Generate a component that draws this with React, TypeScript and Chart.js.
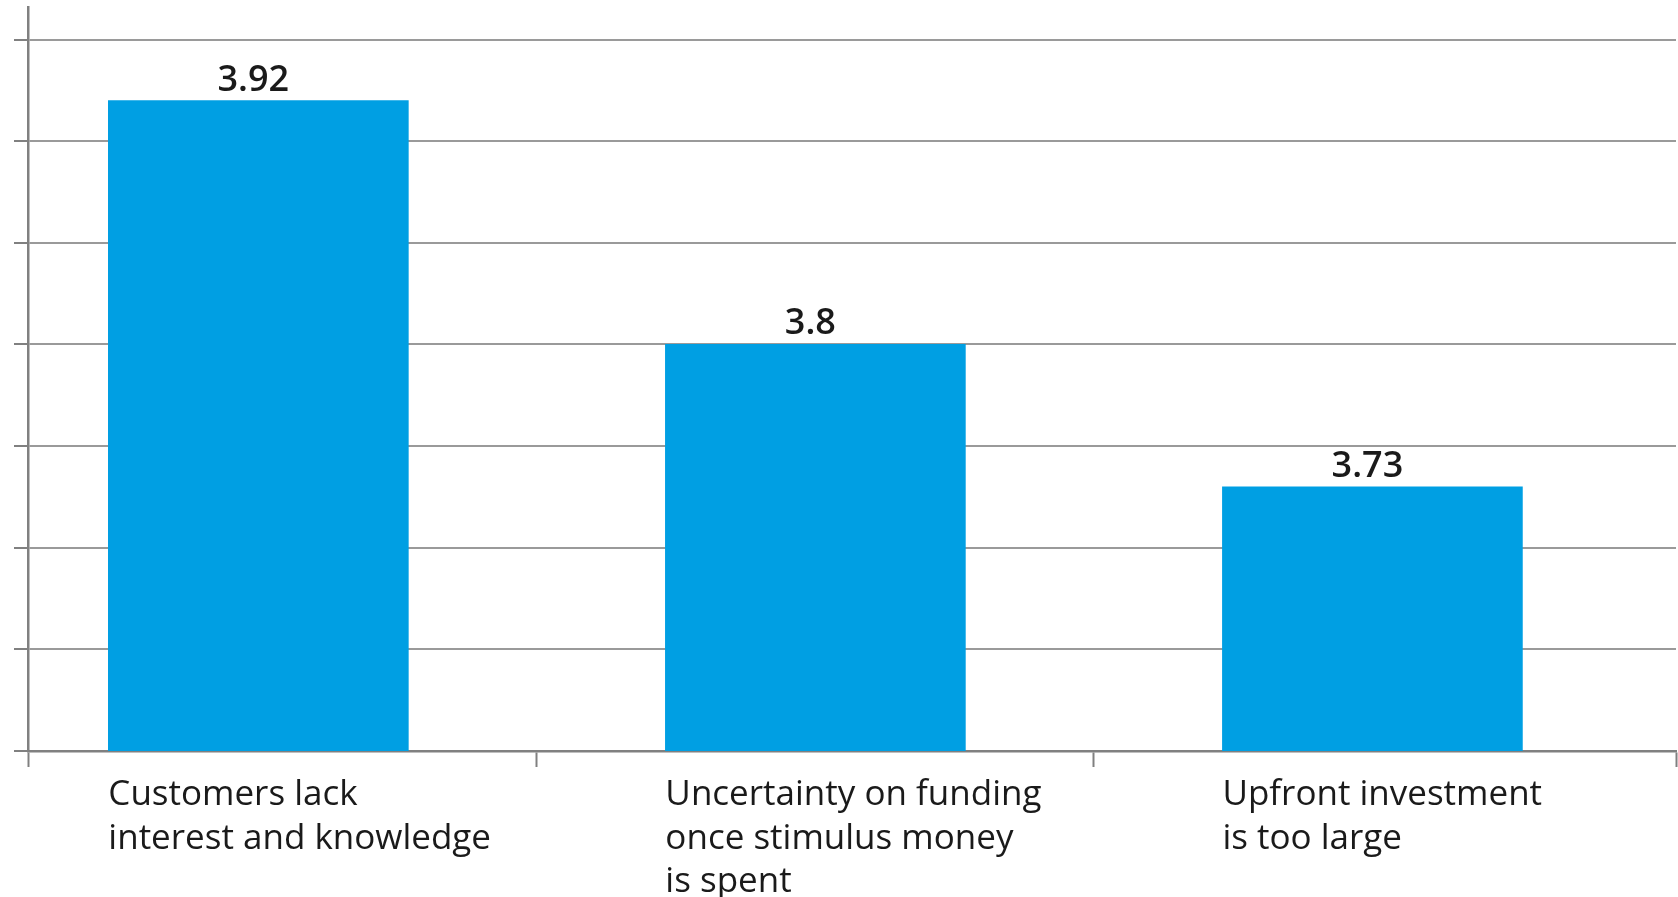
import React, { useEffect, useRef } from "react";
import { Chart, registerables } from "chart.js";

Chart.register(...registerables);

// ---- data ----
const categories: string[][] = [
  ["Customers lack", "interest and knowledge"],
  ["Uncertainty on funding", "once stimulus money", "is spent"],
  ["Upfront investment", "is too large"],
];
const values: number[] = [3.92, 3.8, 3.73];
const valueLabels: string[] = ["3.92", "3.8", "3.73"];
const yGridTicks: number[] = [3.6, 3.65, 3.7, 3.75, 3.8, 3.85, 3.9, 3.95];
const yMin = 3.6;
const yMax = 3.966;
const xMin = -0.4135;
const xMax = 2.545;
const xDividers: number[] = [0.5, 1.5];

const FONT = '"Open Sans", "Noto Sans", sans-serif';
const BAR_COLOR = "#009FE3";
const AXIS_COLOR = "#808080";
const GRID_COLOR = "#9a9a9a";
const TEXT_COLOR = "#1a1a1a";

const valueLabelPlugin = {
  id: "valueLabels",
  afterDatasetsDraw(chart: any) {
    const ctx = chart.ctx;
    const meta = chart.getDatasetMeta(0);
    ctx.save();
    ctx.font = `600 36px ${FONT}`;
    ctx.fillStyle = TEXT_COLOR;
    ctx.textAlign = "center";
    ctx.textBaseline = "alphabetic";
    meta.data.forEach((el: any, i: number) => {
      ctx.fillText(valueLabels[i], el.x - 5, el.y - 10);
    });
    ctx.restore();
  },
};

export default function App() {
  const canvasRef = useRef<HTMLCanvasElement | null>(null);

  useEffect(() => {
    document.body.style.margin = "0";
    const canvas = canvasRef.current;
    if (!canvas) return;
    Chart.defaults.font.family = FONT;

    const xTickValues = [xMin, ...categories.map((_, i) => i), ...xDividers, xMax].sort(
      (a, b) => a - b
    );

    const chart = new Chart(canvas, {
      type: "bar",
      data: {
        datasets: [
          {
            data: values.map((v, i) => ({ x: i, y: v })),
            backgroundColor: BAR_COLOR,
            borderWidth: 0,
            barThickness: 300,
          } as any,
        ],
      },
      plugins: [valueLabelPlugin],
      options: {
        animation: false,
        responsive: false,
        devicePixelRatio: 1,
        layout: { padding: { left: 14, right: 2, top: 7, bottom: 0 } },
        plugins: {
          legend: { display: false },
          tooltip: { enabled: false },
        },
        scales: {
          x: {
            type: "linear",
            offset: false,
            min: xMin,
            max: xMax,
            afterBuildTicks: (scale: any) => {
              scale.ticks = xTickValues.map((v) => ({ value: v }));
            },
            afterFit: (scale: any) => {
              scale.height = 146;
              scale.paddingLeft = 0;
              scale.paddingRight = 0;
            },
            grid: {
              offset: false,
              drawOnChartArea: false,
              drawTicks: true,
              tickLength: 16,
              tickWidth: 2,
              tickColor: (ctx: any) =>
                ctx.tick && Number.isInteger(ctx.tick.value) ? "rgba(0,0,0,0)" : AXIS_COLOR,
            },
            border: { color: AXIS_COLOR, width: 2.5 },
            ticks: {
              autoSkip: false,
              maxRotation: 0,
              minRotation: 0,
              align: "start",
              labelOffset: -150,
              padding: 7,
              color: TEXT_COLOR,
              font: { size: 35, family: FONT, lineHeight: 1.23 },
              callback: (value: any) =>
                Number.isInteger(value) ? categories[value as number] : "",
            },
          },
          y: {
            type: "linear",
            min: yMin,
            max: yMax,
            afterBuildTicks: (scale: any) => {
              scale.ticks = yGridTicks.map((v) => ({ value: v }));
            },
            grid: {
              color: GRID_COLOR,
              lineWidth: 2,
              drawTicks: true,
              tickLength: 14,
              tickColor: AXIS_COLOR,
            },
            border: { color: AXIS_COLOR, width: 2.5 },
            ticks: { display: false },
          },
        },
      } as any,
    });

    return () => chart.destroy();
  }, []);

  return (
    <div style={{ position: "fixed", left: 0, top: 0, width: 1678, height: 897, background: "#fff" }}>
      <canvas ref={canvasRef} width={1678} height={897} style={{ display: "block" }} />
    </div>
  );
}
